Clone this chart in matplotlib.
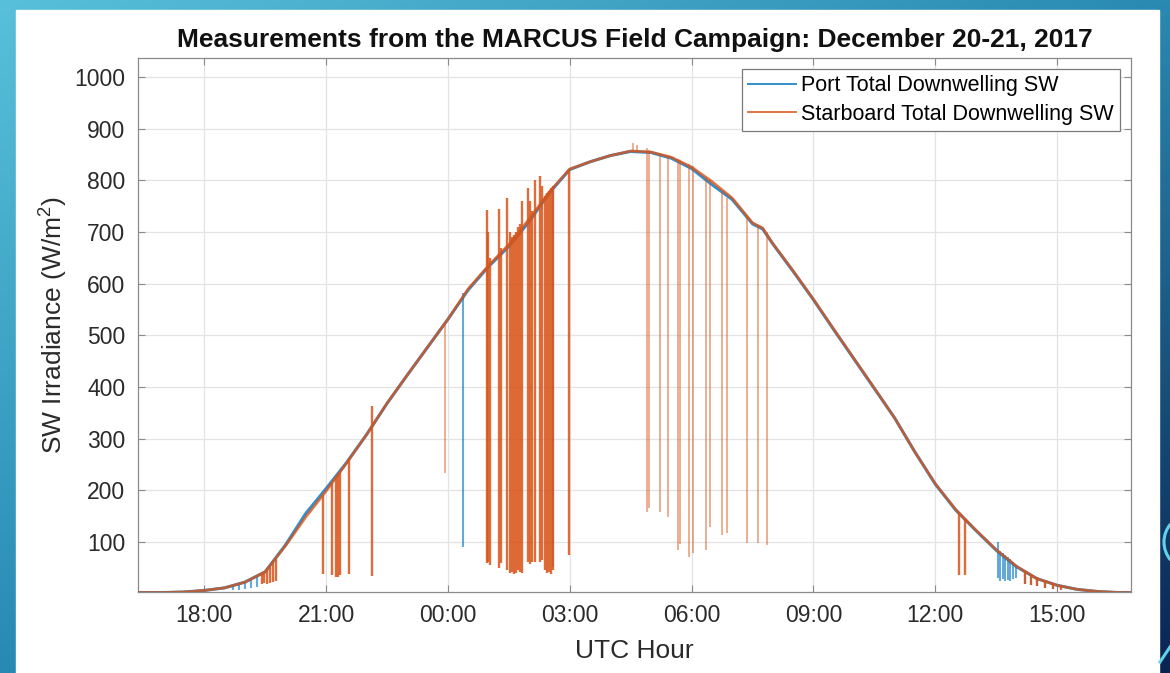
import numpy as np
import matplotlib
matplotlib.use("Agg")
import matplotlib.pyplot as plt
from matplotlib.patches import Rectangle, Arc

plt.rcParams['font.family'] = ['Liberation Sans', 'DejaVu Sans']
plt.rcParams['mathtext.default'] = 'regular'

# ---------------- data (hours since 2017-12-20 00:00 UTC) ----------------
hours = [16.37, 16.5, 17.0, 17.5, 18.0, 18.5, 19.0, 19.5, 20.0, 20.5, 21.0, 21.5,
         22.0, 22.5, 23.0, 23.5, 24.0, 24.5, 25.0, 25.5, 26.0, 26.5, 27.0, 27.5,
         28.0, 28.5, 29.0, 29.5, 30.0, 30.5, 31.0, 31.5, 31.75, 32.0, 32.5, 33.0,
         33.5, 34.0, 34.5, 35.0, 35.5, 36.0, 36.5, 37.0, 37.5, 38.0, 38.5, 39.0,
         39.5, 40.0, 40.5, 40.82]

port_sw = [2, 2, 2, 3, 6, 11, 22, 42, 94, 155, 203, 253, 308, 368, 423, 477, 531,
           588, 633, 672, 720, 776, 821, 836, 848, 856, 854, 843, 823, 792, 763, 716,
           706, 677, 624, 569, 511, 454, 397, 340, 274, 212, 162, 122, 84, 52, 29, 16,
           8, 4, 2, 2]

stbd_sw = [2, 2, 2, 3, 6, 11, 22, 42, 92, 148, 198, 252, 308, 368, 423, 477, 531,
           590, 635, 676, 725, 778, 822, 836, 848, 857, 855, 845, 826, 798, 766, 718,
           708, 678, 625, 570, 512, 455, 398, 340, 274, 213, 163, 123, 85, 53, 29, 16,
           8, 4, 2, 2]

# dropouts / spikes: time, upper value, lower value
port_spike_t = [18.7, 18.85, 19.0, 19.15, 19.3, 24.38, 26.59,
                37.55, 37.6, 37.66, 37.72, 37.78, 37.85, 37.92, 38.0,
                38.2, 38.35, 38.5, 38.7, 38.9]
port_spike_hi = [14, 17, 22, 27, 32, 581, 790,
                 100, 82, 78, 74, 70, 66, 62, 55,
                 44, 37, 32, 26, 20]
port_spike_lo = [6, 7, 9, 10, 12, 90, 52,
                 30, 25, 28, 24, 27, 25, 28, 30,
                 18, 16, 14, 11, 9]

# starboard: dense dropouts in the morning cloud period
stbd_dense_t = [19.42, 19.48, 19.55, 19.62, 19.7, 19.76,
                20.93, 21.15, 21.25, 21.30, 21.35, 21.57, 22.13,
                24.96, 25.00, 25.03, 25.26, 25.30, 25.46, 25.53, 25.58, 25.63,
                25.68, 25.73, 25.78, 25.83, 25.98, 26.03, 26.07, 26.15, 26.27,
                26.32, 26.39, 26.44, 26.49, 26.54, 26.59, 26.99,
                36.59, 36.74,
                38.2, 38.35, 38.5, 38.7, 38.9, 39.1]
stbd_dense_hi = [38, 41, 45, 52, 60, 66,
                 190, 215, 225, 230, 236, 262, 363,
                 742, 700, 650, 745, 670, 765, 700, 690, 695,
                 700, 710, 715, 761, 786, 760, 740, 800, 809,
                 790, 770, 775, 780, 785, 790, 822,
                 158, 147,
                 44, 37, 32, 26, 20, 15]
stbd_dense_lo = [18, 20, 19, 21, 22, 24,
                 38, 36, 33, 33, 35, 38, 34,
                 59, 62, 55, 50, 60, 46, 40, 42, 38,
                 40, 45, 42, 40, 61, 58, 62, 61, 61,
                 65, 45, 40, 42, 38, 45, 74,
                 36, 36,
                 18, 16, 14, 11, 9, 7]

# starboard: isolated thin dropouts / noise around solar noon
stbd_thin_t = [23.93, 28.55, 28.65, 28.91, 28.95, 29.23, 29.43, 29.67, 29.72, 29.94,
               30.04, 30.36, 30.46, 30.75, 30.88, 31.37, 31.64, 31.86]
stbd_thin_hi = [523, 872, 868, 862, 858, 853, 848, 842, 840, 832,
                828, 806, 800, 777, 766, 733, 712, 700]
stbd_thin_lo = [233, 856, 856, 158, 165, 158, 148, 84, 95, 71,
                78, 84, 129, 113, 117, 98, 98, 94]

tick_hours = [18, 21, 24, 27, 30, 33, 36, 39]
tick_labels = ["18:00", "21:00", "00:00", "03:00", "06:00", "09:00", "12:00", "15:00"]
y_ticks = [100, 200, 300, 400, 500, 600, 700, 800, 900, 1000]

PORT_C = '#0072BD'
STBD_C = '#D95319'

W, H = 1170, 673
fig = plt.figure(figsize=(W / 100, H / 100), dpi=100)

# ---- slide background ----
bg = fig.add_axes([0, 0, 1, 1])
yy, xx = np.mgrid[0:1:200j, 0:1:300j]
tl = np.array([88, 192, 218]); tr = np.array([42, 138, 178])
bl = np.array([40, 138, 180]); br = np.array([10, 36, 82])
img = (tl * ((1 - xx) * (1 - yy))[..., None] + tr * (xx * (1 - yy))[..., None]
       + bl * ((1 - xx) * yy)[..., None] + br * (xx * yy)[..., None]) / 255.0
bg.imshow(img, extent=[0, W, H, 0], aspect='auto', interpolation='bilinear')
bg.add_patch(Rectangle((16, 10), 1143, 663, color='white', zorder=2))
bg.add_patch(Arc((1192, 542), 56, 56, theta1=140, theta2=220, color='#5fd3ea', lw=2.2, zorder=3))
bg.plot([1160, 1172], [662, 644], color='#5fd3ea', lw=2.2, zorder=3)
bg.set_xlim(0, W); bg.set_ylim(H, 0)
bg.axis('off')

# ---- main axes ----
ax = fig.add_axes([138 / W, 1 - 592 / H, (1131 - 138) / W, (592 - 58) / H])
ax.plot(hours, port_sw, color=PORT_C, lw=2.2, label='Port Total Downwelling SW', alpha=0.8, zorder=3)
ax.vlines(port_spike_t, port_spike_lo, port_spike_hi, color=PORT_C, lw=1.5, alpha=0.6, zorder=3)
ax.plot(hours, stbd_sw, color=STBD_C, lw=1.9, label='Starboard Total Downwelling SW', alpha=0.8, zorder=4)
ax.vlines(stbd_dense_t, stbd_dense_lo, stbd_dense_hi, color=STBD_C, lw=1.7, alpha=0.85, zorder=4)
ax.vlines(stbd_thin_t, stbd_thin_lo, stbd_thin_hi, color=STBD_C, lw=1.2, alpha=0.55, zorder=4)

ax.set_xlim(16.37, 40.82)
ax.set_ylim(3, 1037)
ax.set_xticks(tick_hours)
ax.set_xticklabels(tick_labels)
ax.set_yticks(y_ticks)
ax.grid(True, color='#e3e3e3', lw=0.9)
ax.set_axisbelow(True)
ax.tick_params(direction='in', length=5, width=0.8, colors='#8a8a8a', labelcolor='#2a2a2a',
               labelsize=16.5, top=True, right=True, pad=9)
for s in ax.spines.values():
    s.set_color('#8a8a8a'); s.set_linewidth(0.9)

ax.set_title('Measurements from the MARCUS Field Campaign: December 20-21, 2017',
             fontsize=19, fontweight='bold', color='#111111', pad=8)
ax.set_xlabel('UTC Hour', fontsize=19, color='#2a2a2a', labelpad=8)
ax.set_ylabel('SW Irradiance (W/m$^2$)', fontsize=19, color='#2a2a2a', labelpad=3)

leg = ax.legend(loc='upper right', fontsize=15.5, frameon=True, fancybox=False,
                framealpha=1, edgecolor='#7a7a7a', handlelength=2.2, handletextpad=0.25,
                borderpad=0.3, labelspacing=0.35, borderaxespad=0.5)
leg.get_frame().set_linewidth(0.9)
for ln in leg.get_lines():
    ln.set_linewidth(1.4)

fig.savefig('out.png', dpi=100)
